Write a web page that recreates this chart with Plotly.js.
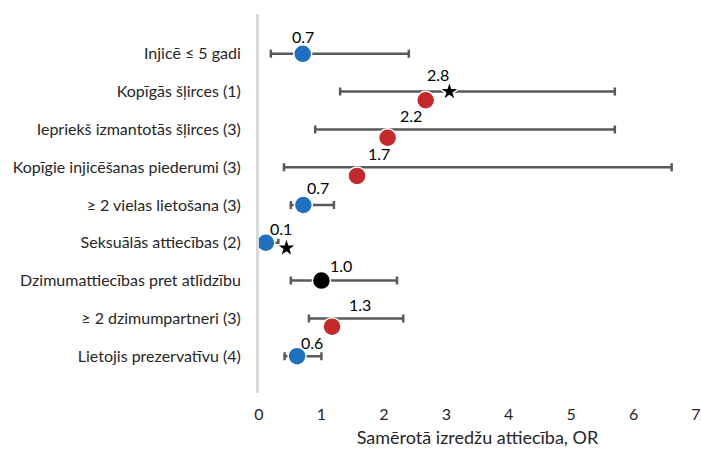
<!DOCTYPE html>
<html>
<head>
<meta charset="utf-8">
<script src="https://cdn.plot.ly/plotly-3.0.1.min.js"></script>
<style>html,body{margin:0;padding:0;background:#fff;}#chart{width:701px;height:452px;}</style>
</head>
<body>
<div id="chart"></div>
<script>
// Categories (top to bottom)
const categories = [
  "Injicē ≤ 5 gadi",
  "Kopīgās šļirces (1)",
  "Iepriekš izmantotās šļirces (3)",
  "Kopīgie injicēšanas piederumi (3)",
  "≥ 2 vielas lietošana (3)",
  "Seksuālās attiecības (2)",
  "Dzimumattiecības pret atlīdzību",
  "≥ 2 dzimumpartneri (3)",
  "Lietojis prezervatīvu (4)"
];
// Odds ratio point estimates (marker positions)
const orValues = [0.70, 2.67, 2.06, 1.57, 0.71, 0.11, 1.00, 1.17, 0.61];
// Confidence interval bounds
const ciLow  = [0.19, 1.30, 0.90, 0.40, 0.51, 0.11, 0.51, 0.80, 0.41];
const ciHigh = [2.40, 5.70, 5.70, 6.61, 1.20, 0.31, 2.21, 2.31, 1.00];
// Marker vertical shift relative to CI line (in row units, as drawn)
const markerShift = [0, 0.23, 0.22, 0.23, 0, 0, 0, 0.22, 0];
// Marker colour group
const groups = ["low", "high", "high", "high", "low", "low", "ref", "high", "low"];
// Value labels
const labelText = ["0.7", "2.8", "2.2", "1.7", "0.7", "0.1", "1.0", "1.3", "0.6"];
const labelX = [0.70, 2.87, 2.43, 1.93, 0.94, 0.36, 1.32, 1.62, 0.85];
const labelShift = [-0.45, -0.45, -0.38, -0.37, -0.45, -0.37, -0.39, -0.37, -0.37];
// Significance stars
const starRow = [1, 5];
const starX = [3.05, 0.44];
const starShift = [0, 0.14];
// X ticks
const xTicks = [0, 1, 2, 3, 4, 5, 6, 7];

const groupColor = {low: "#1F70C1", high: "#C5282A", ref: "#000000"};
const rows = categories.map((c, i) => i);

const font = "Lato, 'Open Sans', sans-serif";

const ciTrace = {
  type: "scatter", mode: "markers",
  x: orValues, y: rows,
  marker: {size: 1, color: "rgba(0,0,0,0)"},
  error_x: {
    type: "data", symmetric: false,
    array: orValues.map((v, i) => ciHigh[i] - v),
    arrayminus: orValues.map((v, i) => v - ciLow[i]),
    color: "#595959", thickness: 2.5, width: 4
  },
  hoverinfo: "skip", showlegend: false
};

const pointTrace = {
  type: "scatter", mode: "markers",
  x: orValues, y: rows.map((r, i) => r + markerShift[i]),
  marker: {size: 18, color: groups.map(g => groupColor[g]), line: {color: "#ffffff", width: 1.5}},
  showlegend: false
};

const starTrace = {
  type: "scatter", mode: "markers",
  x: starX, y: starRow.map((r, i) => r + starShift[i]),
  marker: {symbol: "star", size: 15, color: "#000000", line: {color: "#ffffff", width: 1.5}},
  showlegend: false
};

const annotations = labelText.map((t, i) => ({
  x: labelX[i], y: rows[i] + labelShift[i], xref: "x", yref: "y",
  text: t, showarrow: false, xanchor: "center", yanchor: "middle",
  font: {family: font, size: 16, color: "#000000"}
}));

const layout = {
  width: 701, height: 452,
  margin: {l: 259, r: 5, t: 14, b: 59, pad: 0},
  paper_bgcolor: "#ffffff", plot_bgcolor: "#ffffff",
  font: {family: font, size: 16, color: "#262626"},
  xaxis: {
    range: [0, 7], tickvals: xTicks, ticktext: xTicks.map(String),
    showgrid: false, zeroline: false, showline: false,
    ticks: "outside", ticklen: 7, tickcolor: "rgba(0,0,0,0)",
    ticklabeloverflow: "allow",
    tickfont: {family: font, size: 16, color: "#262626"},
    title: {text: "Samērotā izredžu attiecība, OR", font: {family: font, size: 18, color: "#262626"}, standoff: 9}
  },
  yaxis: {
    range: [8.974, -1.053], tickvals: rows, ticktext: categories,
    showgrid: false, zeroline: false, showline: true,
    linecolor: "#D9D9D9", linewidth: 3,
    ticks: "outside", ticklen: 12, tickcolor: "rgba(0,0,0,0)",
    tickfont: {family: font, size: 16, color: "#262626"}
  },
  annotations: annotations,
  showlegend: false
};

Plotly.newPlot("chart", [ciTrace, pointTrace, starTrace], layout, {displayModeBar: false, staticPlot: true});
</script>
</body>
</html>
